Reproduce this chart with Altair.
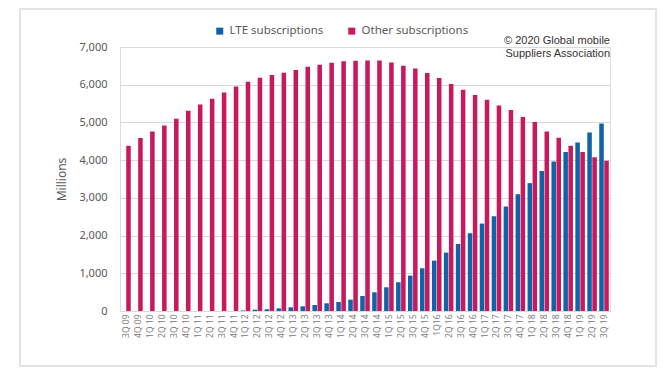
import altair as alt
import pandas as pd

quarters = [
    "3Q 09", "4Q 09",
    "1Q 10", "2Q 10", "3Q 10", "4Q 10",
    "1Q 11", "2Q 11", "3Q 11", "4Q 11",
    "1Q 12", "2Q 12", "3Q 12", "4Q 12",
    "1Q 13", "2Q 13", "3Q 13", "4Q 13",
    "1Q 14", "2Q 14", "3Q 14", "4Q 14",
    "1Q 15", "2Q 15", "3Q 15", "4Q 15",
    "1Q16", "2Q 16", "3Q 16", "4Q 16",
    "1Q 17", "2Q 17", "3Q 17", "4Q 17",
    "1Q 18", "2Q 18", "3Q 18", "4Q 18",
    "1Q 19", "2Q 19", "3Q 19",
]

lte = [
    0, 0,
    0, 0, 0, 0,
    0, 0, 0, 0,
    15, 35, 45, 71,
    97, 124, 159, 204,
    239, 301, 398, 496,
    629, 762, 938, 1133,
    1336, 1548, 1779, 2062,
    2318, 2513, 2770, 3098,
    3390, 3709, 3965, 4213,
    4468, 4734, 4973,
]

other = [
    4380, 4585,
    4760, 4920, 5097, 5310,
    5477, 5628, 5796, 5955,
    6080, 6186, 6257, 6318,
    6390, 6477, 6530, 6584,
    6620, 6637, 6640, 6645,
    6592, 6504, 6433, 6310,
    6177, 6018, 5867, 5726,
    5600, 5450, 5328, 5142,
    5009, 4760, 4593, 4380,
    4213, 4080, 3982,
]

series_names = ["LTE subscriptions", "Other subscriptions"]
series_colors = ["#1162A8", "#C8185E"]
y_ticks = [0, 1000, 2000, 3000, 4000, 5000, 6000, 7000]
credit = ["\u00a9 2020 Global mobile", "Suppliers Association"]

rows = []
for q, l, o in zip(quarters, lte, other):
    rows.append({"quarter": q, "series": series_names[0], "value": l})
    rows.append({"quarter": q, "series": series_names[1], "value": o})
df = pd.DataFrame(rows)

bars = alt.Chart(df).mark_bar().encode(
    x=alt.X(
        "quarter:N",
        sort=quarters,
        scale=alt.Scale(paddingInner=0.2, paddingOuter=0.1),
        axis=alt.Axis(
            title=None,
            labelAngle=270,
            labelFont="Noto Sans",
            labelFontSize=8.5,
            labelColor="#808080",
            labelPadding=3,
            ticks=False,
            domainColor="#D9D9D9",
            domainWidth=1,
        ),
    ),
    xOffset=alt.XOffset("series:N", sort=series_names, scale=alt.Scale(paddingInner=0.1)),
    y=alt.Y(
        "value:Q",
        scale=alt.Scale(domain=[0, 7000], nice=False),
        axis=alt.Axis(
            values=y_ticks,
            format=",.0f",
            title="Millions",
            titleFont="Noto Sans",
            titleFontSize=12,
            titleFontWeight="normal",
            titleColor="#595959",
            titleX=-52,
            titleY=132,
            titleAlign="center",
            titleBaseline="bottom",
            labelFont="Noto Sans",
            labelFontSize=11,
            labelColor="#595959",
            labelPadding=13,
            ticks=False,
            domain=False,
            gridColor="#D9D9D9",
            gridWidth=1,
        ),
    ),
    color=alt.Color(
        "series:N",
        sort=series_names,
        scale=alt.Scale(domain=series_names, range=series_colors),
        legend=alt.Legend(
            title=None,
            orient="none",
            legendX=94,
            legendY=-22,
            direction="horizontal",
            symbolType="square",
            symbolSize=49,
            symbolStrokeWidth=0,
            labelFont="Noto Sans",
            labelFontSize=11.5,
            labelColor="#595959",
            labelOffset=4,
            columnPadding=22,
        ),
    ),
)

frame = alt.Chart(pd.DataFrame({"f": [0]})).mark_rect(
    fillOpacity=0, stroke="#E3E3E3", strokeWidth=2
).encode(
    x=alt.value(-100), x2=alt.value(536), y=alt.value(-38), y2=alt.value(319)
)

chart = alt.layer(frame, bars).properties(
    width=490,
    height=264,
    autosize=alt.AutoSizeParams(type="none"),
    padding={"left": 112, "top": 39, "right": 52, "bottom": 62},
    title=alt.Title(
        credit,
        anchor="end",
        frame="group",
        orient="top",
        font="Liberation Sans",
        fontSize=11,
        fontWeight="normal",
        color="#333333",
        baseline="alphabetic",
        lineHeight=13,
        offset=0,
        dy=60,
    ),
).configure_view(strokeWidth=0).configure(background="white")

chart.save("out.html", embed_options={"renderer": "svg", "actions": False})
